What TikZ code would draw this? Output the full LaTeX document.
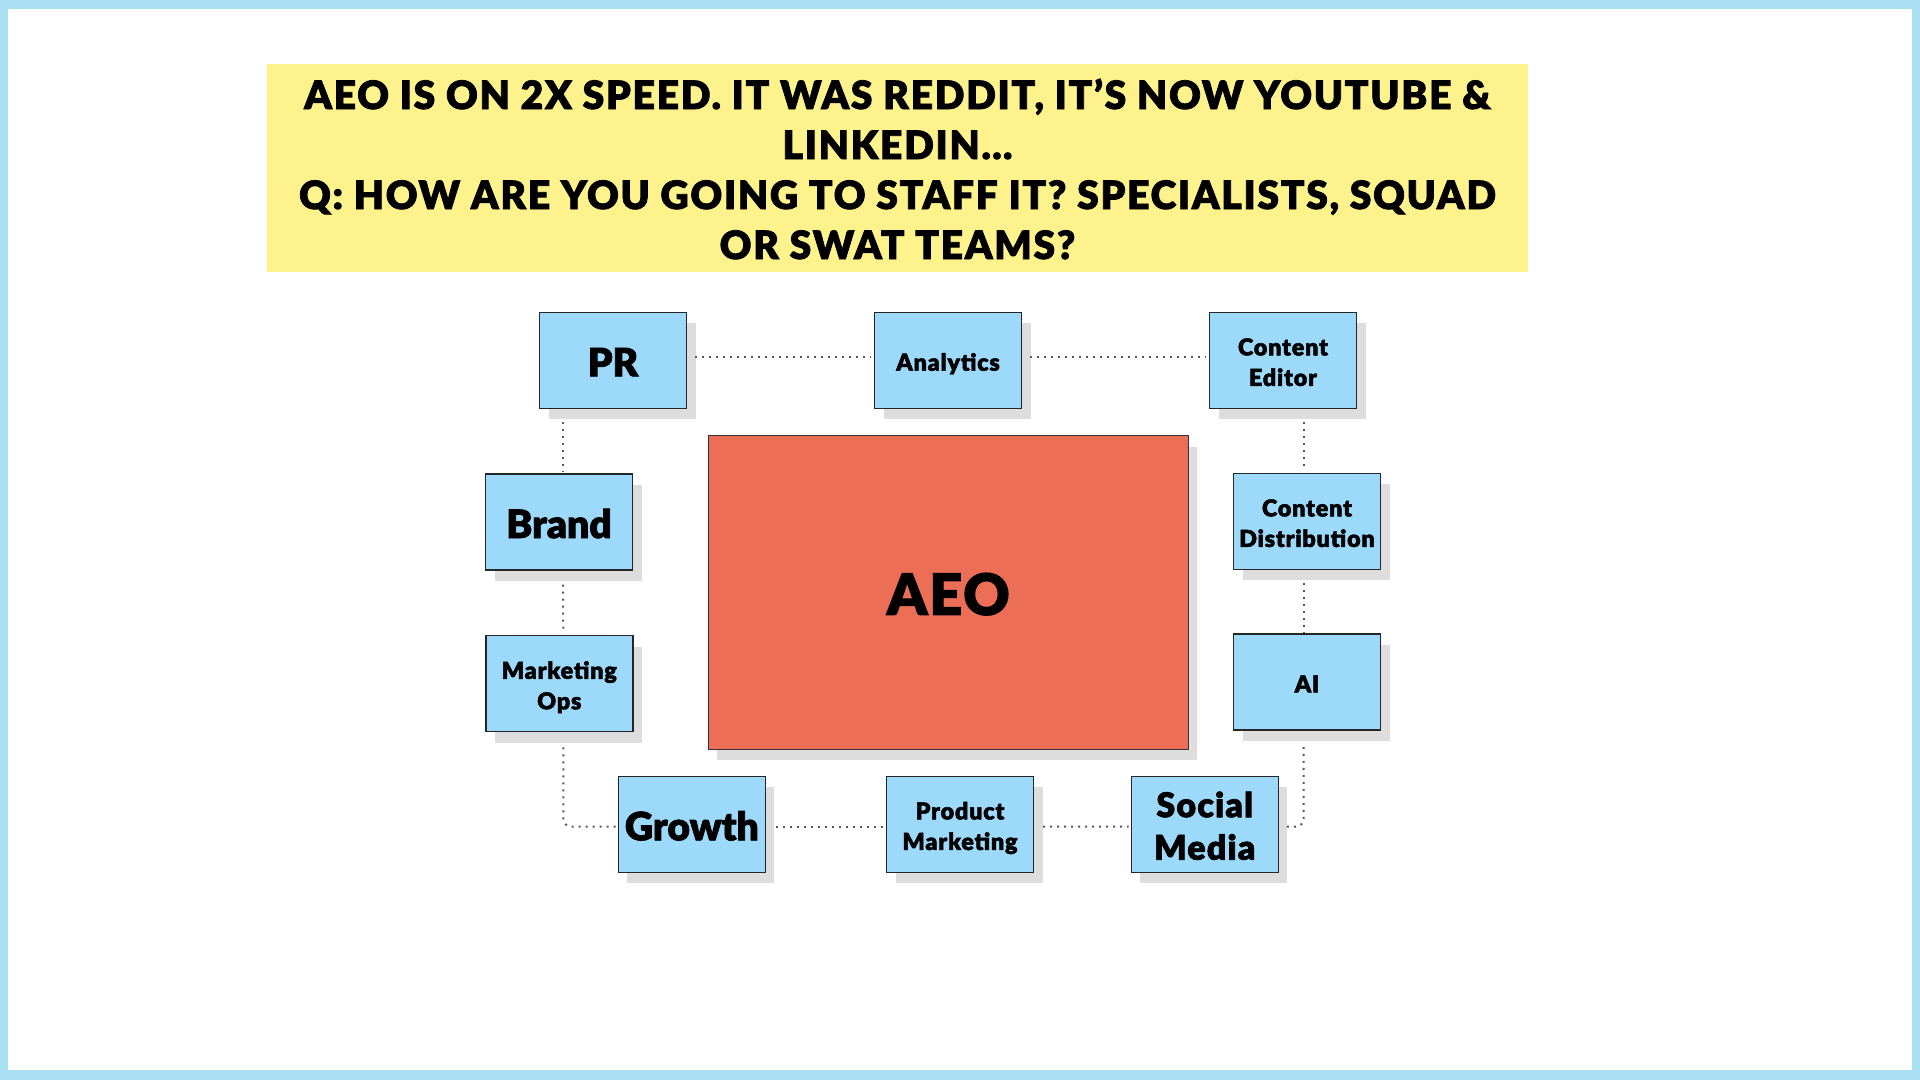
\documentclass[tikz,border=0pt]{standalone}
\usepackage{fontspec}
\newfontfamily\heavyfont{Lato Black}[FakeBold=2]
\newfontfamily\trackedfont{Lato Black}[LetterSpace=3.5, FakeBold=2]
\newfontfamily\headfont{Lato Black}[LetterSpace=4.5, FakeBold=2]
\usetikzlibrary{shadows}

\definecolor{framecyan}{HTML}{A9E1F2}
\definecolor{titleyellow}{HTML}{FDF28C}
\definecolor{roleblue}{HTML}{9CD9FA}
\definecolor{aeored}{HTML}{EC6E57}
\definecolor{shadowgray}{HTML}{DDDDDD}

\begin{document}
\begin{tikzpicture}[
    x=1pt, y=-1pt,
    flatshadow/.style={drop shadow={shadow xshift=9pt, shadow yshift=-11pt, fill=shadowgray, opacity=1}},
    role/.style={draw=black!85, line width=1.4pt, fill=roleblue,
      minimum width=147pt, minimum height=96pt, inner sep=0pt, align=center, flatshadow},
    big/.style={font=\heavyfont\fontsize{39}{42}\selectfont, text height=32pt, text depth=0pt},
    twoline/.style={font=\trackedfont\fontsize{34}{42.5}\selectfont, text height=70.9pt, text depth=0pt},
    small/.style={font=\trackedfont\fontsize{23.3}{30.5}\selectfont, text height=20.7pt, text depth=0pt},
    smalltwo/.style={small, text height=51.2pt},
    link/.style={draw=black!65, line width=2pt, dash pattern=on 2pt off 5pt}
  ]
  \useasboundingbox (0,0) rectangle (1920,1080);
  \fill[framecyan] (0,0) rectangle (1920,1080);
  \fill[white] (8,9) rectangle (1912,1070);

  \node[fill=titleyellow, minimum width=1261pt, minimum height=208pt, inner sep=0pt,
        align=center, font=\headfont\fontsize{39}{50}\selectfont,
        text height=182pt, text depth=0pt] (title) at (897.5,168)
    {AEO IS ON 2X SPEED. IT WAS REDDIT, IT’S NOW YOUTUBE \&\\
     LINKEDIN…\\
     Q: HOW ARE YOU GOING TO STAFF IT? SPECIALISTS, SQUAD\\
     OR SWAT TEAMS?};

  \node[draw=black!80, line width=1.4pt, fill=aeored, minimum width=480pt, minimum height=313.6pt,
        inner sep=0pt, font=\trackedfont\fontsize{57}{60}\selectfont,
        text height=44.8pt, text depth=0pt, flatshadow] (AEO) at (948.3,592.5) {AEO};

  \node[role, big]      (PR)        at (613,360.3)    {PR};
  \node[role, small]    (analytics) at (948,360.3)    {Analytics};
  \node[role, smalltwo] (editor)    at (1283,360.3)   {Content\\Editor};
  \node[role, big]      (brand)     at (559,522)      {Brand};
  \node[role, smalltwo] (distrib)   at (1307,521.3)   {Content\\Distribution};
  \node[role, smalltwo] (mops)      at (559.3,683.7)  {Marketing\\Ops};
  \node[role, small]    (AI)        at (1307,682)     {AI};
  \node[role, big]      (growth)    at (691.8,824.3)  {Growth};
  \node[role, smalltwo] (product)   at (960,824.3)    {Product\\Marketing};
  \node[role, twoline]  (social)    at (1204.7,824.2) {Social\\Media};

  \draw[link, shorten <=8pt, shorten >=3pt] ([yshift=3pt]PR.east) -- ([yshift=3pt]analytics.west);
  \draw[link, shorten <=8pt, shorten >=3pt] ([yshift=3pt]analytics.east) -- ([yshift=3pt]editor.west);
  \draw[link, shorten <=13pt, shorten >=2pt] ([xshift=4pt]brand.north |- PR.south) -- ([xshift=4pt]brand.north);
  \draw[link, shorten <=14pt, shorten >=2pt] ([xshift=4pt]brand.south) -- ([xshift=4pt]mops.north);
  \draw[link, rounded corners=8pt, shorten <=15pt, shorten >=2pt] ([xshift=4pt]mops.south) |- ([yshift=-2.4pt]growth.west);
  \draw[link, shorten <=10pt, shorten >=1pt] ([yshift=-2.4pt]growth.east) -- ([yshift=-2.4pt]product.west);
  \draw[link, shorten <=9pt, shorten >=2pt] ([yshift=-2.4pt]product.east) -- ([yshift=-2.4pt]social.west);
  \draw[link, rounded corners=8pt, shorten <=8pt, shorten >=13pt] ([yshift=-2.4pt]social.east) -| ([xshift=-3.3pt]AI.south);
  \draw[link, shorten <=13pt, shorten >=2pt] ([xshift=-3.3pt]distrib.north |- editor.south) -- ([xshift=-3.3pt]distrib.north);
  \draw[link, shorten <=13pt, shorten >=1pt] ([xshift=-3.3pt]distrib.south) -- ([xshift=-3.3pt]AI.north);
\end{tikzpicture}
\end{document}
